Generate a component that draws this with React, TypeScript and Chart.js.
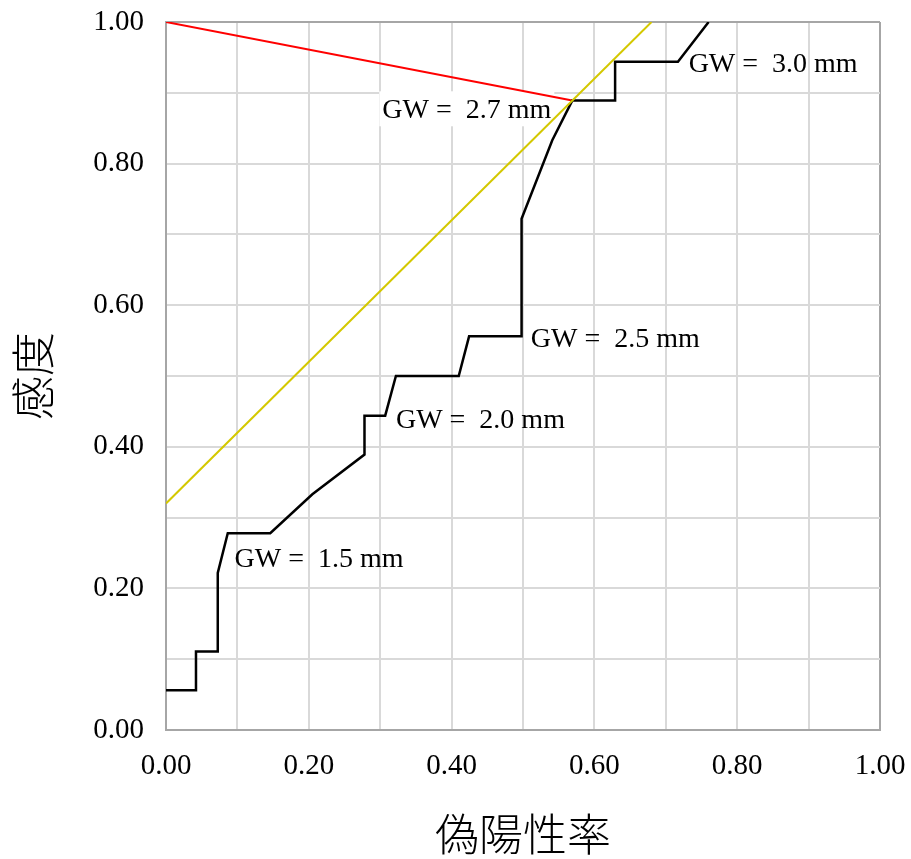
import React, { useEffect, useRef } from 'react';
import { Chart, registerables } from 'chart.js';

Chart.register(...registerables);

// ROC curve (false positive rate, sensitivity)
const rocFpr = [0, 0.042, 0.042, 0.0725, 0.0725, 0.0865, 0.146, 0.205, 0.278, 0.278, 0.307, 0.322, 0.41, 0.4245, 0.498, 0.498, 0.541, 0.569, 0.629, 0.629, 0.717, 0.76];
const rocTpr = [0.056, 0.056, 0.111, 0.111, 0.222, 0.278, 0.278, 0.333, 0.389, 0.444, 0.444, 0.5, 0.5, 0.556, 0.556, 0.722, 0.833, 0.889, 0.889, 0.944, 0.944, 1.0];

// distance line from top-left corner to optimal cut-off
const redFpr = [0, 0.569];
const redTpr = [1.0, 0.889];

// Youden line (slope 1)
const youdenFpr = [0, 0.68];
const youdenTpr = [0.32, 1.0];

// cut-off labels
const gwTexts = ['GW =  1.5 mm', 'GW =  2.0 mm', 'GW =  2.5 mm', 'GW =  2.7 mm', 'GW =  3.0 mm'];
const gwFpr = [0.096, 0.322, 0.511, 0.303, 0.732];
const gwTpr = [0.23, 0.4266, 0.541, 0.864, 0.929];
const gwBoxed = [false, false, false, true, false];

const xTitle = '偽陽性率';
const yTitle = '感度';

const toPts = (xs: number[], ys: number[]) => xs.map((x, i) => ({ x, y: ys[i] }));

const tickCb = (v: any) => {
  const n = Math.round(Number(v) * 10);
  return n % 2 === 0 ? (n / 10).toFixed(2) : '';
};

const gridColor = (ctx: any) =>
  ctx.tick && Math.abs(ctx.tick.value - 1) < 1e-6 ? '#a6a6a6' : '#d9d9d9';

const labelPlugin = {
  id: 'gwLabels',
  beforeDatasetsDraw(chart: any) {
    const { ctx, scales } = chart;
    ctx.save();
    ctx.font = '28px "Liberation Serif"';
    ctx.textAlign = 'left';
    ctx.textBaseline = 'alphabetic';
    gwTexts.forEach((t, i) => {
      const px = scales.x.getPixelForValue(gwFpr[i]);
      const py = scales.y.getPixelForValue(gwTpr[i]);
      if (gwBoxed[i]) {
        const w = ctx.measureText(t).width;
        ctx.fillStyle = '#ffffff';
        ctx.fillRect(px - 3, py - 27, w + 6, 35);
      }
      ctx.fillStyle = '#000000';
      ctx.fillText(t, px, py);
    });
    ctx.restore();
  },
};

const zeroPad = (s: any) => {
  s.paddingTop = 0;
  s.paddingBottom = 0;
  s.paddingLeft = 0;
  s.paddingRight = 0;
};

export default function App() {
  const ref = useRef<HTMLCanvasElement | null>(null);
  useEffect(() => {
    if (!ref.current) return;
    const tickFont = { family: '"Liberation Serif", serif', size: 29 };
    const titleFont = { family: '"Noto Sans CJK JP", sans-serif', size: 44, lineHeight: 1, weight: '300' };
    const chart = new Chart(ref.current, {
      type: 'scatter',
      data: {
        datasets: [
          {
            data: toPts(youdenFpr, youdenTpr),
            showLine: true,
            borderColor: '#d4c800',
            borderWidth: 2,
            pointRadius: 0,
          },
          {
            data: toPts(rocFpr, rocTpr),
            showLine: true,
            borderColor: '#000000',
            borderWidth: 2.5,
            pointRadius: 0,
          },
          {
            data: toPts(redFpr, redTpr),
            showLine: true,
            borderColor: '#ff0000',
            borderWidth: 2,
            pointRadius: 0,
          },
        ],
      },
      options: {
        animation: false,
        responsive: false,
        devicePixelRatio: 1,
        layout: { padding: { left: 0, top: 22, right: 31, bottom: 0 } },
        plugins: { legend: { display: false }, tooltip: { enabled: false } },
        scales: {
          x: {
            type: 'linear',
            min: 0,
            max: 1,
            ticks: { stepSize: 0.1, callback: tickCb, font: tickFont, color: '#000', padding: 19, maxRotation: 0, autoSkip: false },
            grid: { color: gridColor, lineWidth: 2, drawTicks: false },
            border: { color: '#a6a6a6', width: 2 },
            title: { display: true, text: xTitle, font: titleFont, color: '#000', padding: { top: 0, bottom: 3 } },
            afterFit: (s: any) => { s.height = 129; zeroPad(s); },
          },
          y: {
            type: 'linear',
            min: 0,
            max: 1,
            ticks: { stepSize: 0.1, callback: tickCb, font: tickFont, color: '#000', padding: 22, autoSkip: false },
            grid: { color: gridColor, lineWidth: 2, drawTicks: false },
            border: { color: '#a6a6a6', width: 2 },
            title: { display: true, text: yTitle, font: titleFont, color: '#000', padding: { top: 11, bottom: 0 } },
            afterFit: (s: any) => { s.width = 166; zeroPad(s); },
          },
        },
      },
      plugins: [labelPlugin],
    } as any);
    return () => chart.destroy();
  }, []);
  return (
    <div style={{ position: 'absolute', left: 0, top: 0, width: 911, height: 859, background: '#fff' }}>
      <canvas ref={ref} width={911} height={859} style={{ display: 'block' }} />
    </div>
  );
}
